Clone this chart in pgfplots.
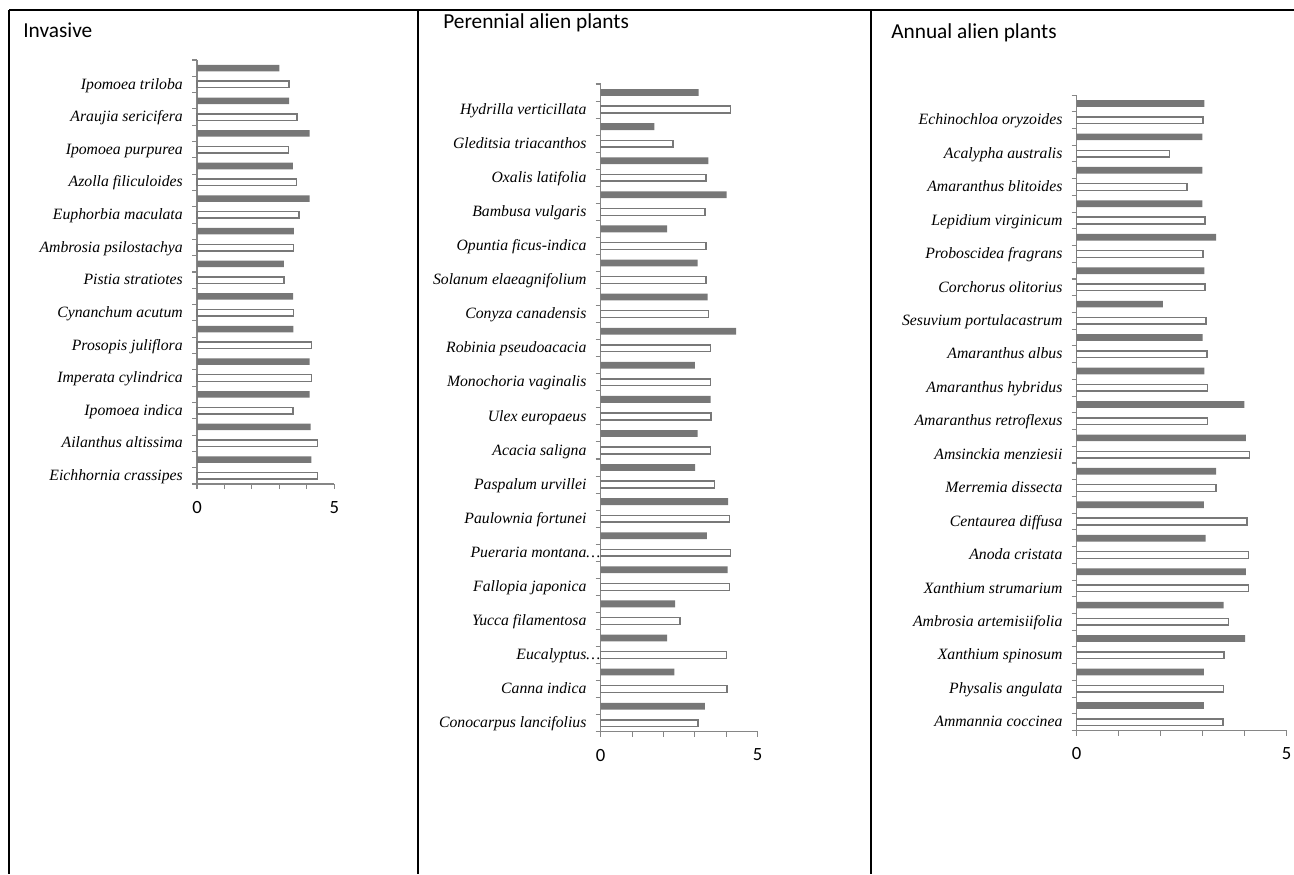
\documentclass[border=0pt]{standalone}
\usepackage{fontspec}
\setmainfont{Liberation Serif}
\newfontfamily\calibri{Carlito}
\usepackage{pgfplots}
\pgfplotsset{compat=1.18}

\definecolor{darkbar}{RGB}{119,119,119}
\definecolor{barline}{RGB}{120,120,120}
\definecolor{axisgray}{RGB}{134,134,134}

% common look of the three bar panels (1px = 0.75pt)
\pgfplotsset{
  panel/.style={
    scale only axis,
    anchor=south west,
    xmin=0, xmax=5,
    enlargelimits=false,
    axis lines=left,
    axis line style={-, draw=axisgray, line width=1pt},
    tick style={draw=axisgray, line width=0.8pt},
    tick align=outside,
    major tick length=3.75pt,
    xtick={0,1,...,5},
    xticklabels={0,,,,,5},
    xticklabel style={font=\calibri\fontsize{14}{16}\selectfont, anchor=north, inner sep=0pt, yshift=-9pt},
    yticklabels={},
    extra y tick style={major tick length=0pt},
    extra y tick labels={},
    yticklabel style={font=\itshape\fontsize{11.8}{13}\selectfont, anchor=base east, inner sep=0pt, xshift=-10.5pt, yshift=-3.5pt},
    clip=false,
  },
  darkbars/.style={xbar, bar width=0.4, bar shift=0pt, fill=darkbar, draw=none},
  whitebars/.style={xbar, bar width=0.4, bar shift=0pt, fill=white, draw=barline, line width=1.1pt},
}

\begin{document}
\begin{tikzpicture}
\begin{scope}[x=0.75pt, y=-0.75pt]
  \useasboundingbox (0,0) rectangle (1294,874);
  % frame of the table
  \draw[line width=1pt] (9,10) -- (1294,10);
  \draw[line width=1pt] (9,10) -- (9,874);
  \draw[line width=1pt] (418,10) -- (418,874);
  \draw[line width=1pt] (871,10) -- (871,874);
  \node[anchor=base west, inner sep=0pt, font=\calibri\fontsize{16}{19}\selectfont] at (23,38) {Invasive};
  \node[anchor=base west, inner sep=0pt, font=\calibri\fontsize{16}{19}\selectfont] at (443,29) {Perennial alien plants};
  \node[anchor=base west, inner sep=0pt, font=\calibri\fontsize{16}{19}\selectfont] at (891,39) {Annual alien plants};
\end{scope}

% Invasive
\begin{axis}[panel, at={(147.75pt,-363pt)}, width=103pt, height=318pt,
  ymin=0.5, ymax=26.5,
  ytick={0.5,1.5,...,26.5},
  extra y ticks={1,3,...,25},
  extra y tick labels={Eichhornia crassipes, Ailanthus altissima, Ipomoea indica,
    Imperata cylindrica, Prosopis juliflora, Cynanchum acutum, Pistia stratiotes,
    Ambrosia psilostachya, Euphorbia maculata, Azolla filiculoides, Ipomoea purpurea,
    Araujia sericifera, Ipomoea triloba}]
\addplot[darkbars] coordinates {
  (4.16,2) (4.14,4) (4.10,6) (4.10,8) (3.51,10) (3.50,12) (3.16,14)
  (3.53,16) (4.10,18) (3.49,20) (4.10,22) (3.35,24) (3.00,26)};
\addplot[whitebars] coordinates {
  (4.38,1) (4.38,3) (3.49,5) (4.17,7) (4.17,9) (3.51,11) (3.16,13)
  (3.51,15) (3.72,17) (3.62,19) (3.33,21) (3.64,23) (3.35,25)};
\end{axis}

% Perennial alien plants
\begin{axis}[panel, at={(450.5pt,-548.8pt)}, width=117.75pt, height=485.8pt,
  ymin=0.5, ymax=38.5,
  ytick={0.5,1.5,...,38.5},
  extra y ticks={1,3,...,37},
  extra y tick labels={Conocarpus lancifolius, Canna indica, Eucalyptus\rlap{…},
    Yucca filamentosa, Fallopia japonica, Pueraria montana\rlap{…}, Paulownia fortunei,
    Paspalum urvillei, Acacia saligna, Ulex europaeus, Monochoria vaginalis,
    Robinia pseudoacacia, Conyza canadensis, Solanum elaeagnifolium,
    Opuntia ficus-indica, Bambusa vulgaris, Oxalis latifolia,
    Gleditsia triacanthos, Hydrilla verticillata}]
\addplot[darkbars] coordinates {
  (3.32,2) (2.35,4) (2.12,6) (2.37,8) (4.04,10) (3.38,12) (4.06,14)
  (3.01,16) (3.09,18) (3.50,20) (3.00,22) (4.31,24) (3.41,26) (3.09,28)
  (2.12,30) (4.01,32) (3.43,34) (1.71,36) (3.12,38)};
\addplot[whitebars] coordinates {
  (3.10,1) (4.03,3) (4.01,5) (2.53,7) (4.10,9) (4.13,11) (4.10,13)
  (3.63,15) (3.50,17) (3.52,19) (3.50,21) (3.50,23) (3.43,25) (3.35,27)
  (3.35,29) (3.32,31) (3.35,33) (2.31,35) (4.13,37)};
\end{axis}

% Annual alien plants
\begin{axis}[panel, at={(807.5pt,-547.9pt)}, width=157.5pt, height=476.6pt,
  ymin=0.5, ymax=38.5,
  ytick={0.5,1.5,...,38.5},
  extra y ticks={1,3,...,37},
  extra y tick labels={Ammannia coccinea, Physalis angulata, Xanthium spinosum,
    Ambrosia artemisiifolia, Xanthium strumarium, Anoda cristata, Centaurea diffusa,
    Merremia dissecta, Amsinckia menziesii, Amaranthus retroflexus,
    Amaranthus hybridus, Amaranthus albus, Sesuvium portulacastrum,
    Corchorus olitorius, Proboscidea fragrans, Lepidium virginicum,
    Amaranthus blitoides, Acalypha australis, Echinochloa oryzoides}]
\addplot[darkbars] coordinates {
  (3.03,2) (3.03,4) (4.01,6) (3.50,8) (4.03,10) (3.07,12) (3.03,14)
  (3.32,16) (4.03,18) (3.99,20) (3.04,22) (3.00,24) (2.05,26) (3.04,28)
  (3.32,30) (2.99,32) (2.99,34) (2.99,36) (3.04,38)};
\addplot[whitebars] coordinates {
  (3.48,1) (3.49,3) (3.51,5) (3.61,7) (4.09,9) (4.09,11) (4.05,13)
  (3.32,15) (4.11,17) (3.12,19) (3.12,21) (3.10,23) (3.08,25) (3.05,27)
  (3.01,29) (3.05,31) (2.63,33) (2.21,35) (3.01,37)};
\end{axis}
\end{tikzpicture}
\end{document}
